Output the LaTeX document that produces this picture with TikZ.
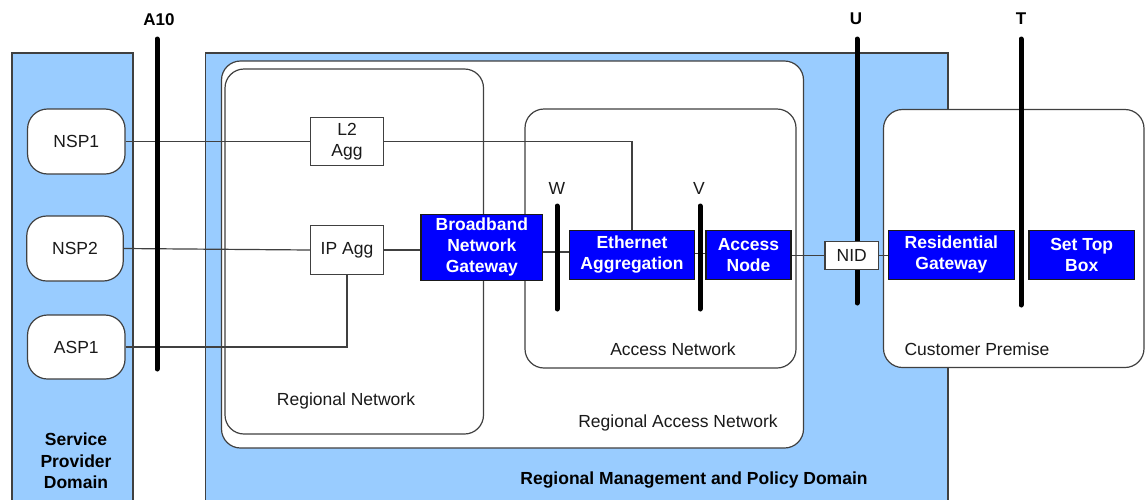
\documentclass[tikz,border=0pt]{standalone}
\usepackage{fontspec}
\setmainfont{Liberation Sans}
\definecolor{sky}{HTML}{99CCFF}
\definecolor{edge}{HTML}{404040}
\definecolor{ink}{HTML}{1A1A1A}
\definecolor{nodeblue}{HTML}{0000FF}
\begin{document}
\begin{tikzpicture}[x=1pt,y=-1pt,
  every node/.style={font=\fontsize{17.5}{21}\selectfont, text=ink},
  domainbox/.style={draw=edge, fill=sky, line width=1.2pt},
  regionbox/.style={draw=edge, fill=white, line width=1.2pt, rounded corners=19pt},
  spbox/.style={draw=edge, fill=white, line width=1.2pt, rounded corners=20pt, inner sep=0pt},
  aggbox/.style={draw=edge, fill=white, line width=1.2pt, inner sep=0pt, align=center},
  bluebox/.style={draw=ink, fill=nodeblue, line width=1.2pt, inner sep=0pt, align=center,
    text=white, font=\fontsize{17.5}{21}\selectfont\bfseries},
  link/.style={draw=edge, line width=1.2pt},
  refbar/.style={line width=5pt, line cap=round, draw=black},
  barlabel/.style={font=\fontsize{17}{20}\selectfont\bfseries, text=black},
  boldlabel/.style={font=\fontsize{17.5}{21.5}\selectfont\bfseries, text=black, align=center}
]
\useasboundingbox (0,0) rectangle (1145,499);
\clip (0,0) rectangle (1145,499);

% domains
\draw[domainbox] (12,53) rectangle (133,510);
\draw[domainbox] (205.5,53) rectangle (948,510);

% regions
\draw[regionbox] (221.5,61) rectangle (803.5,448);
\draw[regionbox] (225,69) rectangle (483.5,434);
\draw[regionbox] (525,109) rectangle (796,368);
\draw[regionbox] (883.5,109.5) rectangle (1144,367.5);

\node (lblran) at (678,423) {Regional Access Network};
\node (lblrn) at (346,401) {Regional Network};
\node (lblan) at (673,349) {Access Network};
\node (lblcp) at (977,349) {Customer Premise};
\node[boldlabel] (lblspd) at (76,461) {Service\\Provider\\Domain};
\node[boldlabel] (lblrmp) at (694,480) {Regional Management and Policy Domain};

% service provider nodes
\node[spbox, minimum width=97.5, minimum height=65] (nsp1) at (76.3,141.5) {NSP1};
\node[spbox, minimum width=96.5, minimum height=65] (nsp2) at (75,248.5) {NSP2};
\node[spbox, minimum width=97.5, minimum height=64] (asp1) at (76.3,347) {ASP1};

% aggregation nodes
\node[aggbox, minimum width=72.5, minimum height=48.5] (l2agg) at (347,141.5) {L2\\Agg};
\node[aggbox, minimum width=72.5, minimum height=48.5] (ipagg) at (347,250) {IP Agg};

% blue nodes
\node[bluebox, minimum width=121.5, minimum height=66] (bng) at (481.8,247.3) {Broadband\\Network\\Gateway};
\node[bluebox, minimum width=125.5, minimum height=49] (eth) at (632,254.8) {Ethernet\\Aggregation};
\node[bluebox, minimum width=85, minimum height=49] (an) at (748.5,254.8) {Access\\Node};
\node[bluebox, minimum width=125.5, minimum height=49] (rg) at (951.4,254.7) {Residential\\Gateway};
\node[bluebox, minimum width=105.5, minimum height=49] (stb) at (1081.7,254.7) {Set Top\\Box};

% connectors
\draw[link] (nsp1.east) -- (l2agg.west);
\draw[link] (l2agg.east) -| (eth.north);
\draw[link] (nsp2.east) -- (ipagg.west);
\draw[link] (asp1.east) -| (ipagg.south);
\draw[link] (ipagg.east) -- (bng.west |- ipagg.east);
\draw[link] (bng.east |- 0,252) -- (eth.west |- 0,252);
\draw[link] (eth.east |- 0,253.5) -- (an.west |- 0,253.5);

% reference bars
\coordinate (a10top) at (157,39);
\coordinate (a10bot) at (157,369);
\draw[refbar] (a10top) -- (a10bot);
\node[barlabel] (a10) at (159,20) {A10};

\coordinate (wtop) at (557,206);
\coordinate (wbot) at (557,309);
\draw[refbar] (wtop) -- (wbot);
\node (wl) at (557,188) {W};

\coordinate (vtop) at (700,206);
\coordinate (vbot) at (700,309);
\draw[refbar] (vtop) -- (vbot);
\node (vl) at (699,188) {V};

\coordinate (utop) at (857,39);
\coordinate (ubot) at (857,303);
\draw[refbar] (utop) -- (ubot);
\node[barlabel] (ul) at (856,19) {U};

\coordinate (ttop) at (1021,39);
\coordinate (tbot) at (1021,305);
\draw[refbar] (ttop) -- (tbot);
\node[barlabel] (tl) at (1021,19) {T};

% NID on top of U bar
\node[aggbox, minimum width=53.5, minimum height=27.5] (nid) at (851.7,255.4) {NID};
\draw[link] (an.east |- nid.west) -- (nid.west);
\draw[link] (nid.east) -- (rg.west |- nid.east);
\end{tikzpicture}
\end{document}
